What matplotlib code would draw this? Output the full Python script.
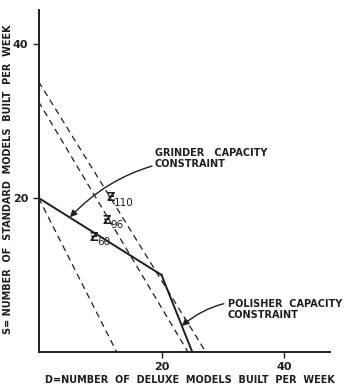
import matplotlib
matplotlib.use("Agg")
import matplotlib.pyplot as plt

# feasible-region boundary (grinder then polisher constraint)
grinder_D = [0, 20]
grinder_S = [20, 10]
polisher_D = [20, 25]
polisher_S = [10, 0]

# iso-profit lines, read as (D, S) end points
iso_names = ["60", "96", "110"]
iso_D = [[0, 12.7], [0, 24.3], [0, 27.2]]
iso_S = [[20, 0], [32.5, 0], [35.1, 0]]
iso_label_pos = [(8.3, 14.9), (10.4, 17.1), (11.0, 20.0)]

x_ticks = [20, 40]
y_ticks = [20, 40]

ink = "#1e1e1e"
bold = dict(fontweight="bold", color=ink)

fig = plt.figure(figsize=(3.51, 3.90), dpi=100)
ax = fig.add_axes([0.110, 0.0974, 0.830, 0.877])

for d, s in zip(iso_D, iso_S):
    ax.plot(d, s, "--", color=ink, lw=0.9, dashes=(5, 3.5))
ax.plot(grinder_D, grinder_S, "-", color=ink, lw=1.4)
ax.plot(polisher_D, polisher_S, "-", color=ink, lw=1.4)

# "Z" with its subscript drawn as a second, smaller text
for name, (x, y) in zip(iso_names, iso_label_pos):
    ax.text(x, y, "Ƶ", fontsize=8.5, ha="left", va="center", **bold)
    ax.annotate(name, xy=(x, y), xytext=(5.5, -3.5), textcoords="offset points",
                fontsize=7.5, ha="left", va="center", color=ink)

ax.annotate("GRINDER   CAPACITY\nCONSTRAINT", xy=(5.1, 17.5), xytext=(18.9, 25.1),
            fontsize=7, ha="left", va="center", linespacing=1.2, **bold,
            arrowprops=dict(arrowstyle="-|>", color=ink, lw=1.0,
                            connectionstyle="arc3,rad=0.22",
                            shrinkA=0, shrinkB=0, mutation_scale=10))
ax.annotate("POLISHER  CAPACITY\nCONSTRAINT", xy=(23.3, 3.4), xytext=(30.8, 5.5),
            fontsize=7, ha="left", va="center", linespacing=1.2, **bold,
            arrowprops=dict(arrowstyle="-|>", color=ink, lw=1.0,
                            connectionstyle="arc3,rad=0.3",
                            shrinkA=1, shrinkB=0, mutation_scale=10))

ax.set_xlim(0, 47.4)
ax.set_ylim(0, 44.4)
ax.set_xticks(x_ticks)
ax.set_yticks(y_ticks)
ax.tick_params(direction="out", length=4, width=1.0, colors=ink, labelsize=8)
for lab in ax.get_xticklabels() + ax.get_yticklabels():
    lab.set_fontweight("bold")
for side in ("top", "right"):
    ax.spines[side].set_visible(False)
for side in ("left", "bottom"):
    ax.spines[side].set_linewidth(1.4)
    ax.spines[side].set_color(ink)

fig.text(0.128, 0.025, "D=NUMBER  OF  DELUXE  MODELS  BUILT  PER  WEEK",
         fontsize=7.0, ha="left", va="center", **bold)
fig.text(0.024, 0.54, "S= NUMBER  OF  STANDARD  MODELS  BUILT  PER  WEEK",
         fontsize=7, ha="center", va="center", rotation=90, **bold)

fig.savefig("out.png", dpi=100)
